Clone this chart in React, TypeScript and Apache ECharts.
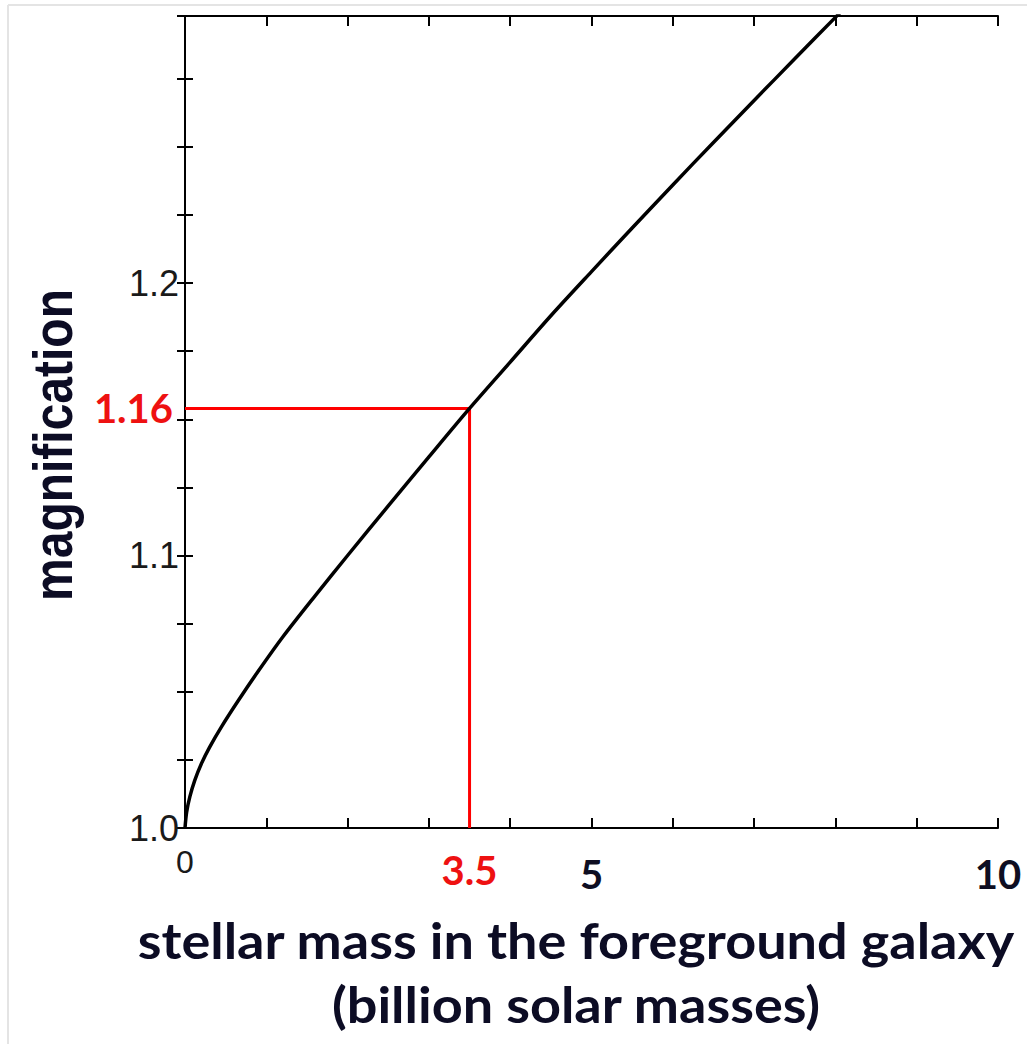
import React, { useEffect, useRef } from "react";
import * as echarts from "echarts";

const massX = [0, 0.02, 0.06, 0.12, 0.2, 0.3, 0.45, 0.65, 0.9, 1.2, 1.6, 2.0, 2.5, 3.0, 3.5, 4.0, 4.5, 5.0, 5.5, 6.0, 6.5, 7.0, 7.5, 8.0, 8.1];
const magY = [1.0, 1.0058, 1.0115, 1.0175, 1.0235, 1.0295, 1.0372, 1.0465, 1.0575, 1.07, 1.0852, 1.1, 1.1182, 1.1362, 1.154, 1.171, 1.188, 1.2042, 1.2202, 1.236, 1.2516, 1.267, 1.2823, 1.2975, 1.3005];
const markerPoint = [3.5, 1.154];
const markerXLabel = "3.5";
const markerYLabel = "1.16";
const xTickLabels: Record<number, string> = { 0: "0", 5: "5", 10: "10" };
const yTickLabels = [1.0, 1.1, 1.2];
const xTitle1 = "stellar mass in the foreground galaxy";
const xTitle2 = "(billion solar masses)";
const yTitle = "magnification";

const W = 1027;
const H = 1044;

export default function App() {
  const ref = useRef<HTMLDivElement>(null);
  useEffect(() => {
    if (!ref.current) return;
    const chart = echarts.init(ref.current, undefined, { renderer: "svg", width: W, height: H });
    const axisColor = "#000000";
    const tickStyle = { color: axisColor, width: 2 };
    const curve = massX.map((x, i) => [x, magY[i]]);
    const redPath = [
      [0, markerPoint[1]],
      [markerPoint[0], markerPoint[1]],
      [markerPoint[0], 1.0],
    ];
    const xAxisBase = {
      type: "value",
      min: 0,
      max: 10,
      interval: 1,
      splitLine: { show: false },
      axisLine: { show: true, lineStyle: tickStyle },
      axisTick: { show: true, inside: true, length: 10, lineStyle: tickStyle },
    };
    const yAxisBase = {
      type: "value",
      min: 1.0,
      max: 1.298,
      interval: 0.025,
      splitLine: { show: false },
      axisLine: { show: true, lineStyle: tickStyle },
      axisTick: { show: true, inside: true, length: 8, lineStyle: tickStyle },
    };
    chart.setOption({
      animation: false,
      backgroundColor: "#ffffff",
      grid: { left: 185, right: 29, top: 16, bottom: 216, containLabel: false },
      xAxis: [
        {
          ...xAxisBase,
          position: "bottom",
          axisLabel: {
            show: true,
            margin: 18,
            formatter: (v: number) => {
              const k = Math.round(v);
              if (Math.abs(v - k) > 1e-6 || !(k in xTickLabels)) return "";
              return k === 0 ? `{r|${xTickLabels[k]}}` : `{b|${xTickLabels[k]}}`;
            },
            rich: {
              r: { fontFamily: "Liberation Sans", fontSize: 32, color: "#1a1a1a" },
              b: { fontFamily: "Lato", fontWeight: "bold", fontSize: 40, color: "#0e0e22", padding: [8, 0, 0, 0] },
            },
          },
        },
        { ...xAxisBase, position: "top", axisLabel: { show: false } },
      ],
      yAxis: [
        {
          ...yAxisBase,
          position: "left",
          axisLabel: {
            show: true,
            margin: 6,
            showMaxLabel: false,
            fontFamily: "Liberation Sans",
            fontSize: 36,
            color: "#1a1a1a",
            formatter: (v: number) => {
              const hit = yTickLabels.find((t) => Math.abs(t - v) < 1e-6);
              return hit === undefined ? "" : hit.toFixed(1);
            },
          },
        },
        { ...yAxisBase, position: "right", axisLabel: { show: false } },
      ],
      series: [
        {
          type: "line",
          data: curve,
          xAxisIndex: 0,
          yAxisIndex: 0,
          showSymbol: false,
          smooth: 0.3,
          lineStyle: { color: "#000000", width: 3.5 },
          clip: true,
          z: 3,
        },
        {
          type: "line",
          data: redPath,
          xAxisIndex: 0,
          yAxisIndex: 0,
          showSymbol: false,
          lineStyle: { color: "#ff0000", width: 3 },
          z: 2,
        },
      ],
    });
    const px = chart.convertToPixel({ xAxisIndex: 0, yAxisIndex: 0 }, markerPoint) as number[];
    const origin = chart.convertToPixel({ xAxisIndex: 0, yAxisIndex: 0 }, [0, 1.0]) as number[];
    const titleColor = "#0c0c24";
    chart.setOption({
      graphic: [
        { type: "line", shape: { x1: 8, y1: 5, x2: W, y2: 5 }, style: { stroke: "#e4e4e4", lineWidth: 2 }, silent: true },
        { type: "line", shape: { x1: 8, y1: 5, x2: 8, y2: H }, style: { stroke: "#e4e4e4", lineWidth: 2 }, silent: true },
        {
          type: "text",
          x: origin[0] - 12,
          y: px[1],
          style: { text: markerYLabel, fill: "#ee1111", font: "bold 40px Lato", align: "right", verticalAlign: "middle" },
        },
        {
          type: "text",
          x: px[0],
          y: origin[1] + 42,
          style: { text: markerXLabel, fill: "#ee1111", font: "bold 40px Lato", align: "center", verticalAlign: "middle" },
        },
        {
          type: "text",
          x: 576,
          y: 940,
          scaleX: 1.08,
          style: { text: xTitle1, fill: titleColor, font: "bold 50px Lato", align: "center", verticalAlign: "middle" },
        },
        {
          type: "text",
          x: 576,
          y: 1004,
          scaleX: 1.08,
          style: { text: xTitle2, fill: titleColor, font: "bold 50px Lato", align: "center", verticalAlign: "middle" },
        },
        {
          type: "text",
          x: 53,
          y: 445,
          rotation: Math.PI / 2,
          scaleY: 1.15,
          style: { text: yTitle, fill: titleColor, font: "bold 48px 'Liberation Sans'", align: "center", verticalAlign: "middle" },
        },
      ],
    });
    return () => chart.dispose();
  }, []);
  return <div ref={ref} style={{ position: "fixed", left: 0, top: 0, width: W, height: H, background: "#fff" }} />;
}
